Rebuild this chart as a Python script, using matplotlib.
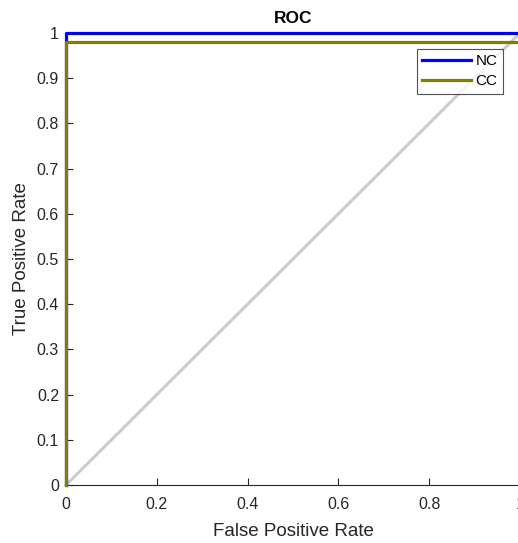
import matplotlib
matplotlib.use("Agg")
import matplotlib.pyplot as plt

plt.rcParams['font.family'] = ['Liberation Sans', 'DejaVu Sans']

# ROC curves
nc_fpr = [0.0, 0.0, 1.0]
nc_tpr = [0.0, 1.0, 1.0]
cc_fpr = [0.0, 0.0, 1.0]
cc_tpr = [0.0, 0.98, 0.98]
diag_x = [0.0, 1.0]
diag_y = [0.0, 1.0]
xticks = [0, 0.2, 0.4, 0.6, 0.8, 1]
xticklabels = ['0', '0.2', '0.4', '0.6', '0.8', '1']
yticks = [0, 0.1, 0.2, 0.3, 0.4, 0.5, 0.6, 0.7, 0.8, 0.9, 1]
yticklabels = ['0', '0.1', '0.2', '0.3', '0.4', '0.5', '0.6', '0.7', '0.8', '0.9', '1']

fig = plt.figure(figsize=(5.18, 5.43), dpi=100)
ax = fig.add_axes([66/518, 58/543, 454/518, 452/543])

ax.plot(diag_x, diag_y, color=(0.8, 0.8, 0.8), lw=2.2, clip_on=False, zorder=1)
ax.plot(nc_fpr, nc_tpr, color=(0, 0, 1), lw=2.3, label='NC', clip_on=False, zorder=3)
ax.plot(cc_fpr, cc_tpr, color=(0.5, 0.5, 0), lw=2.3, label='CC', clip_on=False, zorder=3)

ax.set_xlim(0, 1)
ax.set_ylim(0, 1)
ax.set_xticks(xticks)
ax.set_xticklabels(xticklabels)
ax.set_yticks(yticks)
ax.set_yticklabels(yticklabels)
ax.tick_params(direction='in', length=5, width=0.8, labelsize=11.5, colors='#262626')
ax.tick_params(axis='x', pad=8.5)
ax.tick_params(axis='y', pad=5)
for s in ['top', 'right']:
    ax.spines[s].set_visible(False)
for s in ['left', 'bottom']:
    ax.spines[s].set_color('#262626')
    ax.spines[s].set_linewidth(0.8)

ax.set_title('ROC', fontsize=12.5, fontweight='bold', pad=7)
ax.set_xlabel('False Positive Rate', fontsize=13.5, color='#262626', labelpad=8)
ax.set_ylabel('True Positive Rate', fontsize=13.5, color='#262626', labelpad=4.5)

leg = ax.legend(loc='upper right', bbox_to_anchor=(503/518, 494/543), bbox_transform=fig.transFigure,
                fontsize=11, frameon=True, fancybox=False, handlelength=3.2,
                handletextpad=0.32, borderpad=0.35, labelspacing=0.4, borderaxespad=0)
leg.get_frame().set_edgecolor('#262626')
leg.get_frame().set_linewidth(0.8)

fig.savefig('out.png', dpi=100)
